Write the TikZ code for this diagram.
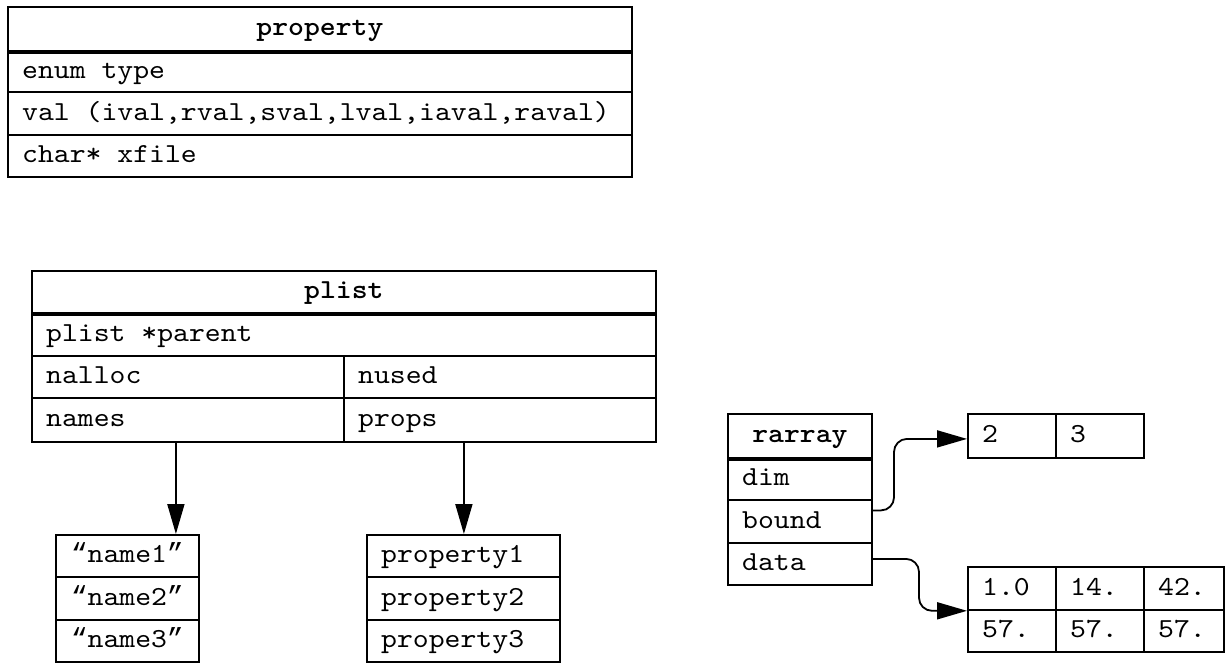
\documentclass[tikz,border=0pt]{standalone}
\usepackage{fontspec}
\setmonofont{lmmono10-regular.otf}[FakeStretch=1.1, BoldFont=lmmonolt10-bold.otf]
\newfontfamily\quotefont{Liberation Mono}
\newcommand{\myLQ}{{\quotefont “}}
\newcommand{\myRQ}{{\quotefont ”}}
\usetikzlibrary{arrows.meta}
\tikzset{
  box/.style 2 args={draw, line width=1.8pt, inner sep=0pt, anchor=north west,
    minimum width=#1, minimum height=#2, font=\ttfamily\fontsize{27.5}{30}\selectfont,
    text height=17pt, text depth=3pt},
  txt/.style={font=\ttfamily\fontsize{27.5}{30}\selectfont, text height=17pt,
    text depth=3pt, inner sep=0pt, anchor=west, xshift=15pt},
  thick line/.style={line width=4.5pt},
  arr/.style={line width=1.8pt, -{Triangle[length=30pt,width=17pt]}},
}
\begin{document}
\begin{tikzpicture}[x=1pt,y=-1pt]
\useasboundingbox (0,0) rectangle (1225,662);

% property
\node[box={624pt}{44pt}] (phead) at (7,6) {\bfseries property};
\node[box={624pt}{41pt}, label={[txt]west:enum type}] (ptype) at (7,50) {};
\node[box={624pt}{43pt}, label={[txt]west:val (ival,rval,sval,lval,iaval,raval)}] (pval) at (7,91) {};
\node[box={624pt}{42pt}, label={[txt]west:char* xfile}] (pxfile) at (7,134) {};
\draw[thick line] (phead.south west) -- (phead.south east);

% plist
\node[box={624pt}{42pt}] (lhead) at (31,270) {\bfseries plist};
\node[box={624pt}{43pt}, label={[txt]west:plist *parent}] (lparent) at (31,312) {};
\node[box={312pt}{42pt}, label={[txt]west:nalloc}] (lnalloc) at (31,355) {};
\node[box={312pt}{42pt}, label={[txt]west:nused}] (lnused) at (343,355) {};
\node[box={312pt}{44pt}, label={[txt]west:names}] (lnames) at (31,397) {};
\node[box={312pt}{44pt}, label={[txt]west:props}] (lprops) at (343,397) {};
\draw[thick line] (lhead.south west) -- (lhead.south east);

% names
\node[box={143pt}{42pt}] (n1) at (55,534) {\myLQ name1\myRQ};
\node[box={143pt}{43pt}] (n2) at (55,576) {\myLQ name2\myRQ};
\node[box={143pt}{42pt}] (n3) at (55,619) {\myLQ name3\myRQ};

% properties
\node[box={193pt}{42pt}, label={[txt]west:property1}] (q1) at (366,534) {};
\node[box={193pt}{43pt}, label={[txt]west:property2}] (q2) at (366,576) {};
\node[box={193pt}{42pt}, label={[txt]west:property3}] (q3) at (366,619) {};

\draw[arr] ([xshift=-12pt]lnames.south) -- ([xshift=-12pt]lnames.south |- n1.north);
\draw[arr] ([xshift=-36pt]lprops.south) -- ([xshift=-36pt]lprops.south |- q1.north);

% rarray
\node[box={144pt}{44pt}] (rhead) at (727,413) {\bfseries rarray};
\node[box={144pt}{42pt}, label={[txt]west:dim}] (rdim) at (727,457) {};
\node[box={144pt}{43pt}, label={[txt]west:bound}] (rbound) at (727,499) {};
\node[box={144pt}{42pt}, label={[txt]west:data}] (rdata) at (727,542) {};
\draw[thick line] (rhead.south west) -- (rhead.south east);

% bound array
\node[box={88pt}{44pt}, label={[txt]west:2}] (b1) at (967,413) {};
\node[box={88pt}{44pt}, label={[txt]west:3}] (b2) at (1055,413) {};

% data array
\node[box={88pt}{43pt}, label={[txt]west:1.0}] (d1) at (967,566) {};
\node[box={88pt}{43pt}, label={[txt]west:14.}] (d2) at (1055,566) {};
\node[box={80pt}{43pt}, label={[txt]west:42.}] (d3) at (1143,566) {};
\node[box={88pt}{42pt}, label={[txt]west:57.}] (d4) at (967,609) {};
\node[box={88pt}{42pt}, label={[txt]west:57.}] (d5) at (1055,609) {};
\node[box={80pt}{42pt}, label={[txt]west:57.}] (d6) at (1143,609) {};

\coordinate (bendA) at (894,0);
\coordinate (bendB) at (919,0);
\coordinate (b1in) at ([yshift=-3pt]b1.west);
\draw[arr, rounded corners=13pt] ([yshift=11pt]rbound.east) -| (bendA |- b1in) -- (b1in);
\draw[arr, rounded corners=13pt] ([yshift=5pt]rdata.east) -| (bendB |- d1.south west) -- (d1.south west);
\end{tikzpicture}
\end{document}
